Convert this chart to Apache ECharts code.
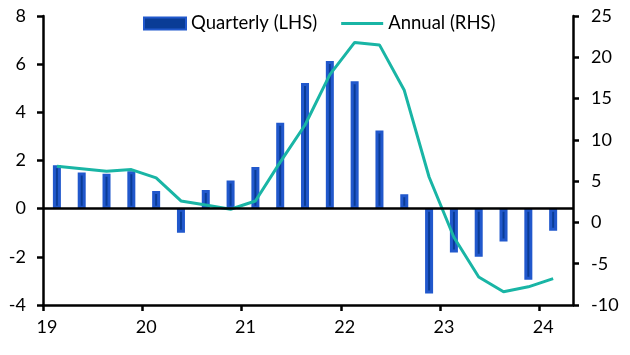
<!DOCTYPE html>
<html>
<head>
<meta charset="utf-8">
<script src="https://cdn.jsdelivr.net/npm/echarts@6/dist/echarts.min.js"></script>
<style>html,body{margin:0;padding:0;background:#fff;}#c{width:630px;height:355px;}</style>
</head>
<body>
<div id="c"></div>
<script>
// Quarter positions as year fractions (Q1 2019 ... Q1 2024)
const quarters = [2019.14,2019.39,2019.64,2019.89,2020.14,2020.39,2020.64,2020.89,2021.14,2021.39,2021.64,2021.89,2022.14,2022.39,2022.64,2022.89,2023.14,2023.39,2023.64,2023.89,2024.14];
const quarterly = [1.8,1.5,1.45,1.55,0.73,-1.0,0.78,1.17,1.73,3.57,5.22,6.13,5.29,3.25,0.6,-3.52,-1.82,-2.0,-1.36,-2.95,-0.92];
const annual = [6.8,6.5,6.2,6.4,5.4,2.6,2.1,1.6,2.6,7.3,11.8,17.9,21.8,21.5,16.0,5.5,-1.8,-6.6,-8.4,-7.8,-6.8];
const yearTicks = [2019,2020,2021,2022,2023,2024];
const leftTicks = [-4,-2,0,2,4,6,8];
const rightTicks = [-10,-5,0,5,10,15,20,25];

const FONT = 'Lato';
const chart = echarts.init(document.getElementById('c'), null, {renderer:'canvas'});
chart.setOption({
  animation:false,
  textStyle:{fontFamily:FONT},
  legend:{
    top:9, left:138, itemGap:24, itemWidth:42, itemHeight:12,
    textStyle:{fontFamily:FONT,fontSize:18.5,color:'#000'},
    data:[
      {name:'Quarterly (LHS)', icon:'rect'},
      {name:'Annual (RHS)', icon:'path://M0 0H42V3H0Z'}
    ]
  },
  grid:{left:43,right:57,top:16,bottom:50,containLabel:false},
  xAxis:{
    type:'value', min:2019, max:2024.34, interval:1,
    splitLine:{show:false},
    axisLine:{show:true,onZero:false,lineStyle:{color:'#000',width:2.5}},
    axisTick:{show:true,length:6,lineStyle:{color:'#000',width:2.5},customValues:yearTicks},
    axisLabel:{fontFamily:FONT,fontSize:18,color:'#000',margin:13,padding:[0,0,0,8],
      customValues:yearTicks,
      formatter:v=>String(Math.round(v)-2000)}
  },
  yAxis:[
    {type:'value',min:-4,max:8,interval:2,position:'left',
     splitLine:{show:false},
     axisLine:{show:true,onZero:false,lineStyle:{color:'#000',width:2.5}},
     axisTick:{show:true,length:6,lineStyle:{color:'#000',width:2.5}},
     axisLabel:{fontFamily:FONT,fontSize:18,color:'#000',margin:17,
       formatter:v=>leftTicks.includes(v)?String(v):''}},
    {type:'value',min:-10,max:25,interval:5,position:'right',
     splitLine:{show:false},
     axisLine:{show:true,onZero:false,lineStyle:{color:'#000',width:2.5}},
     axisTick:{show:true,length:6,lineStyle:{color:'#000',width:2.5}},
     axisLabel:{fontFamily:FONT,fontSize:18,color:'#000',margin:18,
       formatter:v=>rightTicks.includes(v)?String(v):''}}
  ],
  series:[
    {name:'Quarterly (LHS)',type:'bar',yAxisIndex:0,barWidth:8,
     data:quarters.map((x,i)=>[x,quarterly[i]]),
     itemStyle:{color:'#0a3c96',borderColor:'#2158cc',borderWidth:3},
     markLine:{silent:true,symbol:'none',label:{show:false},
       lineStyle:{color:'#000',width:2.5,type:'solid'},
       data:[{yAxis:0}]},
     z:2},
    {name:'Annual (RHS)',type:'line',yAxisIndex:1,
     data:quarters.map((x,i)=>[x,annual[i]]),
     symbol:'none',lineStyle:{color:'#19b5a5',width:3},itemStyle:{color:'#19b5a5'},z:3}
  ]
});
</script>
</body>
</html>
